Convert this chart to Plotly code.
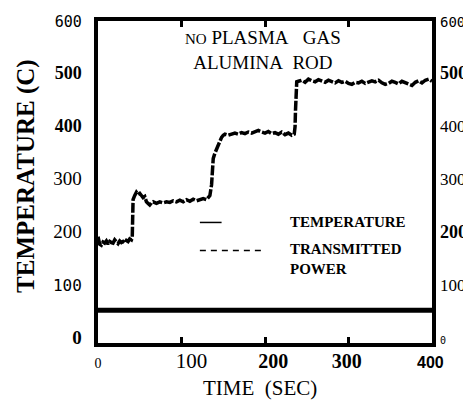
import plotly.graph_objects as go

# ---- data ----
time_s = [0, 2, 4, 6, 8, 10, 12, 14, 16, 18, 20, 22, 24, 26, 28, 30, 32, 34, 36, 38, 40,
          41, 41.5, 42, 44, 46, 48, 50, 52, 54, 56, 58, 60, 62, 64, 66, 70, 74, 78, 82, 86,
          90, 94, 98, 102, 106, 110, 114, 118, 122, 126, 130, 132,
          134, 136, 137, 138, 140, 142, 144, 146, 148, 150,
          152, 156, 160, 164, 168, 172, 176, 180, 184, 188, 192, 196, 200, 204, 208, 212,
          216, 220, 224, 228, 232, 235,
          236, 236.5, 237, 237.5, 238,
          240, 244, 248, 252, 256, 260, 264, 268, 272, 276, 280, 284, 288, 292, 296, 300,
          304, 308, 312, 316, 320, 324, 328, 332, 336, 340, 344, 348, 352, 356, 360, 364,
          368, 372, 376, 380, 384, 388, 392, 396, 400]
power_trace = [192, 178, 176, 182, 180, 184, 178, 183, 181, 180, 186, 182, 179, 184, 181, 183, 180, 185, 183, 188, 186,
               190, 230, 262, 270, 276, 272, 274, 270, 266, 268, 258, 255, 252, 256, 258, 255, 258, 256, 258, 257,
               260, 258, 261, 258, 262, 259, 263, 260, 262, 264, 262, 266,
               270, 290, 320, 340, 350, 358, 365, 372, 380, 384,
               386, 384, 386, 388, 386, 389, 387, 390, 388, 391, 393, 390, 388, 391, 387, 389,
               386, 390, 385, 388, 384, 386,
               400, 430, 460, 480, 485,
               486, 488, 484, 490, 487, 485, 489, 486, 484, 488, 485, 483, 487, 484, 486, 482,
               480, 484, 483, 486, 482, 484, 487, 485, 488, 483, 480, 482, 486, 484, 481, 486,
               483, 480, 478, 484, 487, 483, 488, 490, 486]

base_time = [0, 400]
base_temp = [53, 53]

x_tick_vals = [100, 200, 300]
x_label_pos = [0, 112, 210, 298, 398]
x_label_txt = ["0", "100", "200", "300", "400"]
y_tick_vals = [0, 100, 200, 300, 400, 500, 600]
y_left_txt = ["0", "100", "200", "300", "400", "500", "600"]
y_right_txt = ["0", "100", "200", "300", "400", "500", "600"]

SERIF = "Liberation Serif"


def sty(t, size, bold=False, mono=False, sans=False):
    fam = "font-family:monospace;" if mono else ("font-family:sans-serif;" if sans else "")
    s = f'<span style="{fam}font-size:{size}px">{t}</span>'
    return f"<b>{s}</b>" if bold else s


x_lab_html = [sty(x_label_txt[0], 14),
              sty(x_label_txt[1], 21),
              sty(x_label_txt[2], 20, True),
              sty(x_label_txt[3], 20, True),
              sty(x_label_txt[4], 16, True, sans=True)]
y_left_html = [sty(y_left_txt[0], 19, True),
               sty(y_left_txt[1], 16, mono=True),
               sty(y_left_txt[2], 19),
               sty(y_left_txt[3], 19),
               sty(y_left_txt[4], 18, True),
               sty(y_left_txt[5], 18, True),
               sty(y_left_txt[6], 15, mono=True)]
y_right_html = [sty(y_right_txt[0], 10, mono=True),
                sty(y_right_txt[1], 17),
                sty(y_right_txt[2], 18, True),
                sty(y_right_txt[3], 17),
                sty(y_right_txt[4], 17),
                sty(y_right_txt[5], 18, True),
                sty(y_right_txt[6], 14, mono=True)]

fig = go.Figure()
fig.add_trace(go.Scatter(x=base_time, y=base_temp, mode="lines", name="Temperature",
                         line=dict(color="black", width=5), hoverinfo="skip"))
fig.add_trace(go.Scatter(x=time_s, y=power_trace, mode="lines", name="Transmitted power",
                         line=dict(color="black", width=3.5, dash="10px,2px"), hoverinfo="skip"))
# invisible trace to hold the secondary axes
fig.add_trace(go.Scatter(x=[0, 400], y=[0, 600], xaxis="x2", yaxis="y2", mode="markers",
                         marker=dict(opacity=0), hoverinfo="skip", showlegend=False))

XR = [0, 400]
YR = [-9, 600]

# page body has an 8px margin: figure is 463x402 placed at (8, 8)
fig.update_layout(
    width=463, height=402,
    margin=dict(l=90, r=39, t=13, b=67, autoexpand=False),
    paper_bgcolor="white", plot_bgcolor="white",
    showlegend=False,
    font=dict(family=SERIF, color="black", size=16),
    xaxis=dict(range=XR, showgrid=False, zeroline=False, showline=True, linecolor="black",
               linewidth=4, mirror="ticks", tickvals=x_tick_vals, ticks="inside", ticklen=6,
               tickwidth=3, tickcolor="black", showticklabels=False, automargin=False),
    yaxis=dict(range=YR, showgrid=False, zeroline=False, showline=True, linecolor="black",
               linewidth=4, mirror=True, tickvals=y_tick_vals, ticktext=y_left_html,
               ticks="", ticklabelstandoff=9, automargin=False),
    xaxis2=dict(range=XR, overlaying="x", side="bottom", showgrid=False, zeroline=False,
                showline=False, tickvals=x_label_pos, ticktext=x_lab_html, ticks="",
                ticklabelstandoff=8, automargin=False),
    yaxis2=dict(range=YR, overlaying="y", side="right", showgrid=False, zeroline=False,
                showline=False, tickvals=y_tick_vals, ticktext=y_right_html, ticks="",
                ticklabelstandoff=7, automargin=False),
)

# legend drawn in the plot
fig.add_shape(type="line", x0=122, x1=148, y0=219, y1=219, xref="x", yref="y",
              line=dict(color="black", width=1.5))
fig.add_shape(type="line", x0=122, x1=196, y0=166, y1=166, xref="x", yref="y",
              line=dict(color="black", width=1.5, dash="6px,5px"))
fig.add_annotation(x=227, y=220, xref="x", yref="y", xanchor="left", yanchor="middle",
                   text="<b>TEMPERATURE</b>", showarrow=False,
                   font=dict(family=SERIF, size=15))
fig.add_annotation(x=227, y=150, xref="x", yref="y", xanchor="left", yanchor="middle",
                   text="<b>TRANSMITTED<br>POWER</b>", showarrow=False, align="left",
                   font=dict(family=SERIF, size=15))

# title inside plot
fig.add_annotation(x=198, y=546, xref="x", yref="y", xanchor="center", yanchor="middle",
                   text='<span style="font-size:15px">NO</span> PLASMA\u00a0\u00a0\u00a0GAS<br>'
                        'ALUMINA\u00a0\u00a0ROD',
                   showarrow=False, font=dict(family=SERIF, size=19))

# axis titles
fig.add_annotation(x=0, xref="paper", xshift=-72, y=307, yref="y", xanchor="center",
                   yanchor="middle", textangle=-90, text="<b>TEMPERATURE (C)</b>",
                   showarrow=False, font=dict(family=SERIF, size=25))
fig.add_annotation(x=194, xref="x", y=0, yref="paper", yshift=-45, xanchor="center",
                   yanchor="middle", text="TIME\u00a0\u00a0(SEC)", showarrow=False,
                   font=dict(family=SERIF, size=21))

fig.write_html("out.html")
